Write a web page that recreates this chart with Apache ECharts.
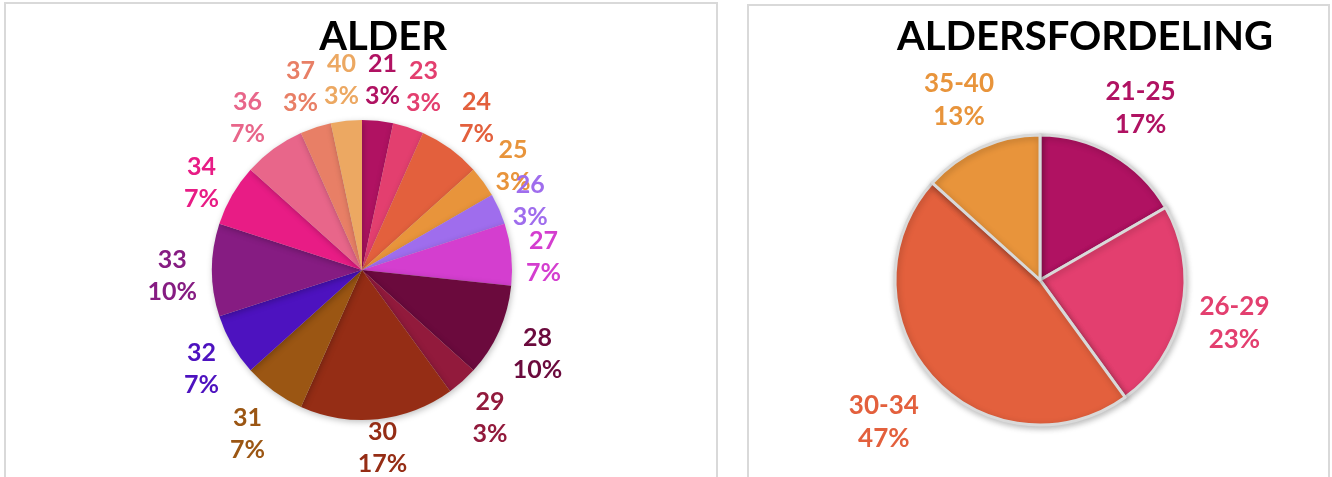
<!DOCTYPE html>
<html>
<head>
<meta charset="utf-8">
<script src="https://cdn.jsdelivr.net/npm/echarts@6/dist/echarts.min.js"></script>
<style>
html,body{margin:0;padding:0;background:#fff;}
#chart{width:1332px;height:477px;}
</style>
</head>
<body>
<div id="chart"></div>
<script>
// Left chart: ALDER (count of people per age)
const ageLabels = ['21','23','24','25','26','27','28','29','30','31','32','33','34','36','37','40'];
const ageCounts = [1,1,2,1,1,2,3,1,5,2,2,3,2,2,1,1];
const ageColors = ['#b01262','#e33f6f','#e3603d','#e8943b','#9f6ded','#d43ecf','#6b0a3d','#921a3c',
                   '#952d15','#9b5613','#4d12bf','#861c82','#e81c85','#e8668a','#e87f66','#eca862'];

// Right chart: ALDERSFORDELING (grouped)
const groupLabels = ['21-25','26-29','30-34','35-40'];
const groupCounts = [5,7,14,4];
const groupColors = ['#b01262','#e33f6f','#e3603d','#e8943b'];

const FONT = 'Lato, "Open Sans", sans-serif';

function mkData(labels, values, colors) {
  return labels.map((l, i) => ({
    name: l, value: values[i],
    itemStyle: { color: colors[i] },
    label: { color: colors[i] }
  }));
}

// Excel-like "outside end" label placement: the label box sits a fixed gap
// outside the pie along the slice's mid-angle, centered text, kept inside the chart.
function edgeLayout(cx, cy, r, gap, bottom, yShift) {
  return function (p) {
    const L = p.labelRect;
    const my = L.y + L.height / 2;
    let dy = Math.max(-r, Math.min(r, my - cy));
    let dx = Math.sqrt(Math.max(r * r - dy * dy, 0));
    if (L.x + L.width / 2 < cx) dx = -dx;
    const ux = dx / r, uy = dy / r;
    const hw = L.width / 2, hh = L.height / 2;
    const t = Math.min(Math.abs(ux) > 1e-6 ? hw / Math.abs(ux) : 1e9,
                       Math.abs(uy) > 1e-6 ? hh / Math.abs(uy) : 1e9);
    const D = r + gap + t;
    const nx = cx + ux * D;
    let ny = cy + uy * D + yShift;
    if (ny + hh > bottom) ny = bottom - hh;
    return { x: nx, y: ny, align: 'center', verticalAlign: 'middle' };
  };
}

const chart = echarts.init(document.getElementById('chart'), null, { renderer: 'canvas' });
chart.setOption({
  animation: false,
  backgroundColor: '#fff',
  graphic: [
    { type: 'rect', shape: { x: 5, y: 3, width: 712, height: 480 }, style: { fill: 'none', stroke: '#d9d9d9', lineWidth: 2 }, z: -1 },
    { type: 'rect', shape: { x: 748, y: 5, width: 581, height: 480 }, style: { fill: 'none', stroke: '#d9d9d9', lineWidth: 2 }, z: -1 }
  ],
  title: [
    { text: 'ALDER', left: 378, top: 12, textAlign: 'center',
      textStyle: { fontFamily: FONT, fontWeight: 'bold', fontSize: 40, color: '#000' } },
    { text: 'ALDERSFORDELING', left: 1080, top: 12, textAlign: 'center',
      textStyle: { fontFamily: FONT, fontWeight: 'bold', fontSize: 40, color: '#000' } }
  ],
  series: [
    {
      type: 'pie',
      center: [362, 270],
      radius: 150,
      startAngle: 90,
      clockwise: true,
      avoidLabelOverlap: false,
      itemStyle: { borderWidth: 0, shadowBlur: 6, shadowColor: 'rgba(0,0,0,0.25)', shadowOffsetX: 1, shadowOffsetY: 2 },
      label: {
        show: true, position: 'outside',
        formatter: p => p.name + '\n' + Math.round(p.percent) + '%',
        fontFamily: FONT, fontWeight: 'bold', fontSize: 25, lineHeight: 32,
        distanceToLabelLine: 0
      },
      labelLine: { show: false, length: 0, length2: 0 },
      labelLayout: edgeLayout(362, 270, 150, 15, 480, 6),
      emphasis: { disabled: true },
      data: mkData(ageLabels, ageCounts, ageColors)
    },
    {
      type: 'pie',
      center: [1040, 280],
      radius: 145,
      startAngle: 90,
      clockwise: true,
      avoidLabelOverlap: false,
      itemStyle: { borderWidth: 3, borderColor: '#d9d9d9', shadowBlur: 6, shadowColor: 'rgba(0,0,0,0.25)', shadowOffsetX: 1, shadowOffsetY: 2 },
      label: {
        show: true, position: 'outside',
        formatter: p => p.name + '\n' + Math.round(p.percent) + '%',
        fontFamily: FONT, fontWeight: 'bold', fontSize: 26, lineHeight: 33,
        distanceToLabelLine: 0
      },
      labelLine: { show: false, length: 0, length2: 0 },
      labelLayout: edgeLayout(1040, 280, 145, 18, 480, 2),
      emphasis: { disabled: true },
      data: mkData(groupLabels, groupCounts, groupColors)
    }
  ]
});
</script>
</body>
</html>
